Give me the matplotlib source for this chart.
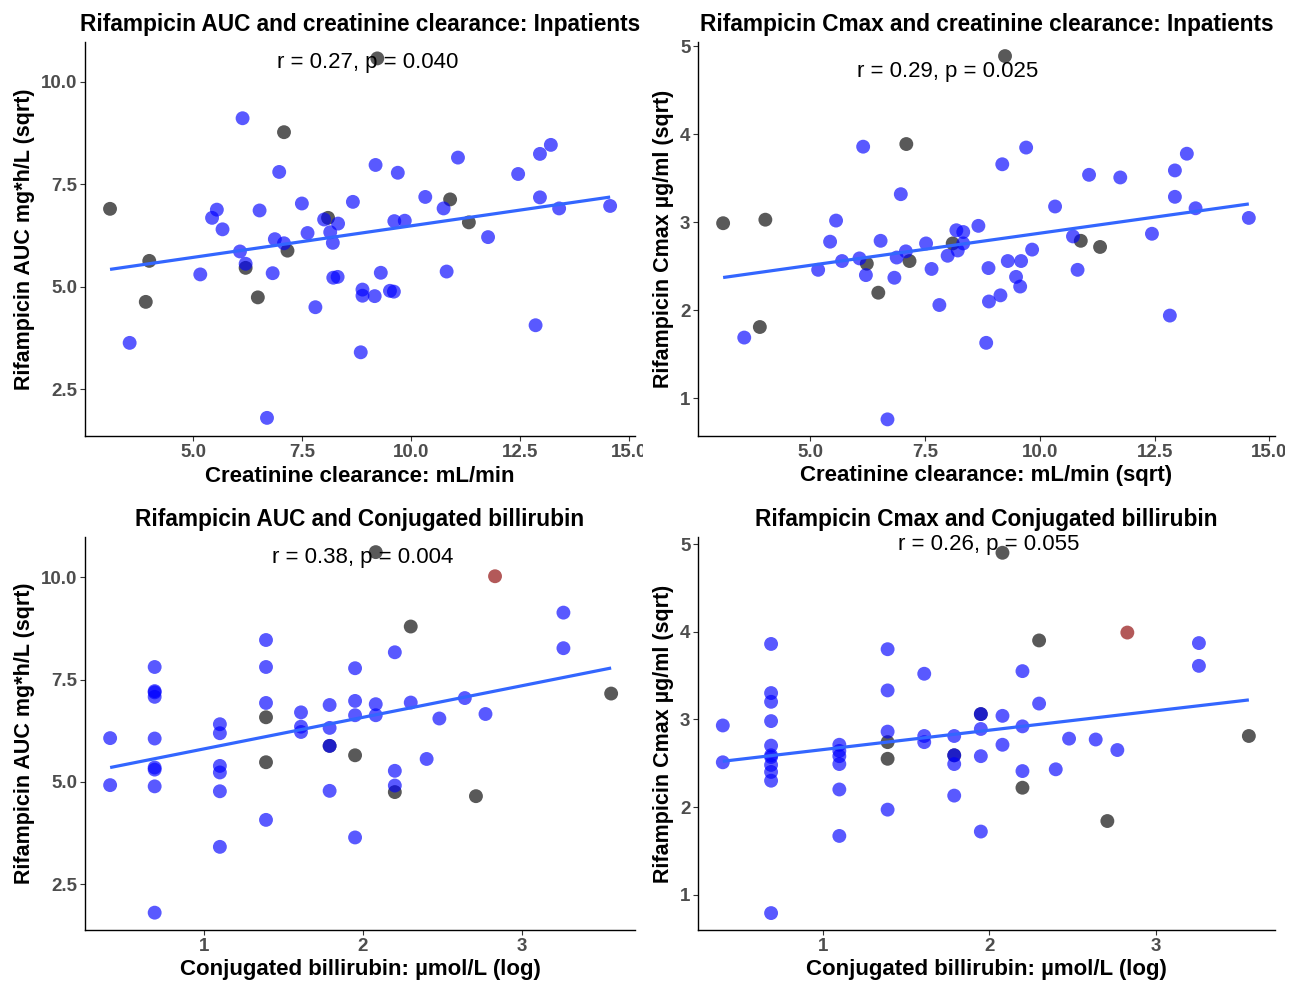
import numpy as np
import matplotlib
matplotlib.use("Agg")
import matplotlib.pyplot as plt
from matplotlib.transforms import Bbox, TransformedBbox

plt.rcParams['font.family'] = ['Liberation Sans', 'DejaVu Sans']

# ---------------- data ----------------
# Panel 1: AUC (sqrt) vs creatinine clearance (sqrt)
p1_x = [3.09, 7.08, 8.09, 7.16, 3.99, 6.20, 3.91, 6.48, 9.22, 10.89, 11.32,
        6.13, 6.97, 9.18, 5.54, 5.43, 5.67, 6.52, 7.49, 8.66, 8.00, 8.32, 8.14, 8.20, 7.62,
        6.87, 7.08, 6.07, 6.20, 5.16, 6.82, 8.21, 8.31, 9.30, 8.88, 8.88, 9.16, 7.80, 3.54,
        8.84, 6.69, 9.69, 11.07, 12.45, 12.95, 13.20, 10.32, 10.74, 12.95, 13.39, 14.56,
        9.61, 9.85, 11.76, 10.81, 9.51, 9.60, 12.85]
p1_y = [6.90, 8.77, 6.68, 5.88, 5.63, 5.46, 4.63, 4.74, 10.57, 7.13, 6.57,
        9.11, 7.80, 7.97, 6.88, 6.68, 6.40, 6.86, 7.03, 7.07, 6.64, 6.54, 6.33, 6.07, 6.31,
        6.16, 6.06, 5.86, 5.56, 5.30, 5.33, 5.22, 5.24, 5.34, 4.93, 4.78, 4.77, 4.50, 3.63,
        3.40, 1.80, 7.78, 8.15, 7.75, 8.24, 8.46, 7.19, 6.91, 7.18, 6.91, 6.97,
        6.60, 6.61, 6.21, 5.37, 4.90, 4.88, 4.06]
p1_g = ['g'] * 11 + ['b'] * 47

# Panel 2: AUC (sqrt) vs conjugated bilirubin (log)
p2_x = [1.39, 1.39, 1.79, 1.95, 2.08, 2.30, 3.56, 2.20, 2.71,
        2.83,
        0.41, 0.41, 0.69, 0.69, 0.69, 0.69, 0.69, 0.69, 0.69, 0.69, 0.69,
        1.10, 1.10, 1.10, 1.10, 1.10, 1.10,
        1.39, 1.39, 1.39, 1.39,
        1.61, 1.61, 1.61,
        1.79, 1.79, 1.79, 1.79,
        1.95, 1.95, 1.95, 1.95,
        2.08, 2.08,
        2.20, 2.30, 2.64, 2.48, 2.77, 3.26, 3.26, 2.40, 2.20, 2.20]
p2_y = [6.58, 5.48, 5.88, 5.65, 10.62, 8.80, 7.16, 4.75, 4.65,
        10.03,
        6.07, 4.92, 7.81, 7.22, 7.19, 7.08, 6.06, 5.35, 5.30, 4.89, 1.80,
        6.41, 6.19, 5.39, 5.23, 4.77, 3.41,
        8.47, 7.81, 6.93, 4.07,
        6.70, 6.35, 6.22,
        6.88, 6.32, 5.88, 4.78,
        7.78, 6.98, 6.63, 3.64,
        6.90, 6.63,
        8.17, 6.94, 7.05, 6.55, 6.66, 9.14, 8.27, 5.56, 5.27, 4.91]
p2_g = ['g'] * 9 + ['r'] + ['b'] * 44

# Panel 3: Cmax (sqrt) vs creatinine clearance (sqrt)
p3_x = [3.10, 4.02, 7.09, 8.10, 7.16, 6.23, 6.48, 3.90, 9.24, 10.89, 11.31,
        6.15, 6.97, 5.56, 5.43, 6.53, 7.52, 8.66, 8.18, 8.33, 8.33, 8.21, 7.99, 5.69, 6.07,
        6.88, 7.08, 5.17, 6.21, 6.83, 7.64, 8.88, 7.81, 8.89, 9.14, 3.56, 8.83, 6.68, 9.18,
        9.70, 11.07, 11.75, 13.20, 12.94, 10.33, 12.94, 13.39, 14.55, 10.72, 12.44, 9.83,
        9.30, 9.59, 10.82, 9.48, 9.57, 12.83]
p3_y = [2.99, 3.03, 3.89, 2.76, 2.56, 2.53, 2.20, 1.81, 4.89, 2.79, 2.72,
        3.86, 3.32, 3.02, 2.78, 2.79, 2.76, 2.96, 2.91, 2.89, 2.76, 2.68, 2.62, 2.56, 2.59,
        2.60, 2.67, 2.46, 2.40, 2.37, 2.47, 2.48, 2.06, 2.10, 2.17, 1.69, 1.63, 0.76, 3.66,
        3.85, 3.54, 3.51, 3.78, 3.59, 3.18, 3.29, 3.16, 3.05, 2.84, 2.87, 2.69,
        2.56, 2.56, 2.46, 2.38, 2.27, 1.94]
p3_g = ['g'] * 11 + ['b'] * 46

# Panel 4: Cmax (sqrt) vs conjugated bilirubin (log)
p4_x = [1.39, 1.39, 1.79, 1.95, 2.08, 2.30, 3.56, 2.20, 2.71,
        2.83,
        0.40, 0.40, 0.69, 0.69, 0.69, 0.69, 0.69, 0.69, 0.69, 0.69, 0.69, 0.69, 0.69,
        1.10, 1.10, 1.10, 1.10, 1.10, 1.10,
        1.39, 1.39, 1.39, 1.39,
        1.61, 1.61, 1.61,
        1.79, 1.79, 1.79, 1.79,
        1.95, 1.95, 1.95, 1.95,
        2.08, 2.08,
        2.20, 2.20, 2.20, 2.30, 2.48, 2.64, 2.77, 2.40, 3.26, 3.26]
p4_y = [2.74, 2.55, 2.59, 3.06, 4.90, 3.90, 2.81, 2.22, 1.84,
        3.99,
        2.93, 2.51, 3.86, 3.30, 3.20, 2.98, 2.70, 2.59, 2.57, 2.48, 2.40, 2.30, 0.79,
        2.71, 2.64, 2.58, 2.49, 2.20, 1.67,
        3.80, 3.33, 2.86, 1.97,
        3.52, 2.81, 2.74,
        2.81, 2.59, 2.49, 2.13,
        3.06, 2.89, 2.58, 1.72,
        3.04, 2.71,
        3.55, 2.92, 2.41, 3.18, 2.78, 2.77, 2.65, 2.43, 3.87, 3.61]
p4_g = ['g'] * 9 + ['r'] + ['b'] * 46

titles = ["Rifampicin AUC and creatinine clearance: Inpatients",
          "Rifampicin AUC and Conjugated billirubin",
          "Rifampicin Cmax and creatinine clearance: Inpatients",
          "Rifampicin Cmax and Conjugated billirubin"]
xlabels = ["Creatinine clearance: mL/min",
           "Conjugated billirubin: \u00b5mol/L (log)",
           "Creatinine clearance: mL/min (sqrt)",
           "Conjugated billirubin: \u00b5mol/L (log)"]
ylabels = ["Rifampicin AUC mg*h/L (sqrt)",
           "Rifampicin AUC mg*h/L (sqrt)",
           "Rifampicin Cmax \u00b5g/ml (sqrt)",
           "Rifampicin Cmax \u00b5g/ml (sqrt)"]
stat_text = ["r = 0.27, p = 0.040", "r = 0.38, p = 0.004",
             "r = 0.29, p = 0.025", "r = 0.26, p = 0.055"]
stat_pos = [(9.0, 10.46), (2.0, 10.5), (8.0, 4.72), (2.0, 5.0)]
xticks = [[5.0, 7.5, 10.0, 12.5, 15.0], [1, 2, 3], [5.0, 7.5, 10.0, 12.5, 15.0], [1, 2, 3]]
xticklabels = [["5.0", "7.5", "10.0", "12.5", "15.0"], ["1", "2", "3"],
               ["5.0", "7.5", "10.0", "12.5", "15.0"], ["1", "2", "3"]]
yticks = [[2.5, 5.0, 7.5, 10.0], [2.5, 5.0, 7.5, 10.0], [1, 2, 3, 4, 5], [1, 2, 3, 4, 5]]
yticklabels = [["2.5", "5.0", "7.5", "10.0"], ["2.5", "5.0", "7.5", "10.0"],
               ["1", "2", "3", "4", "5"], ["1", "2", "3", "4", "5"]]
xlims = [(2.516, 15.13), (0.252, 3.71), (2.553, 15.12), (0.251, 3.717)]
ylims = [(1.358, 10.97), (1.376, 10.99), (0.571, 5.05), (0.597, 5.08)]

# ---------------- figure ----------------
W, H = 1301, 985
fig = plt.figure(figsize=(W / 100, H / 100), dpi=100)

rects = [(85, 42, 635, 436), (85, 537, 635, 930), (698, 42, 1275, 436), (698, 537, 1275, 930)]
clip_right = [643, 643, 1285, 1301]
panels = [(p1_x, p1_y, p1_g), (p2_x, p2_y, p2_g), (p3_x, p3_y, p3_g), (p4_x, p4_y, p4_g)]
colors = {'b': (0, 0, 1), 'g': (0, 0, 0), 'r': (0.545, 0, 0)}

for i, (l, t, r, b) in enumerate(rects):
    ax = fig.add_axes([l / W, 1 - b / H, (r - l) / W, (b - t) / H])
    x, y, g = panels[i]
    x = np.array(x); y = np.array(y)
    cols = [colors[c] for c in g]
    ax.scatter(x, y, s=100, c=cols, alpha=0.65, linewidths=0, zorder=2)
    k, c0 = np.polyfit(x, y, 1)
    xs = np.array([x.min(), x.max()])
    ax.plot(xs, k * xs + c0, color='#3366FF', lw=2.3, zorder=3, solid_capstyle='butt')
    ax.text(stat_pos[i][0], stat_pos[i][1], stat_text[i], ha='center', va='center',
            fontsize=16, color='black', zorder=1)
    ax.set_xlim(*xlims[i]); ax.set_ylim(*ylims[i])
    ax.set_xticks(xticks[i]); ax.set_xticklabels(xticklabels[i])
    ax.set_yticks(yticks[i]); ax.set_yticklabels(yticklabels[i])
    for s in ['top', 'right']:
        ax.spines[s].set_visible(False)
    for s in ['left', 'bottom']:
        ax.spines[s].set_linewidth(1.0)
        ax.spines[s].set_color('black')
    ax.tick_params(direction='out', length=3.5, width=0.8, color='#333333',
                   labelsize=13.5, labelcolor='#4D4D4D', pad=2)
    for lab in ax.get_xticklabels() + ax.get_yticklabels():
        lab.set_fontweight('bold')
    ax.set_title(titles[i], fontsize=16.3, fontweight='bold', pad=8)
    ax.set_xlabel(xlabels[i], fontsize=16, fontweight='bold', labelpad=3.5)
    ax.set_ylabel(ylabels[i], fontsize=15.5, fontweight='bold', labelpad=4)
    cb = TransformedBbox(Bbox([[0, 0], [clip_right[i] / W, 1]]), fig.transFigure)
    for lab in ax.get_xticklabels():
        lab.set_clip_box(cb)
        lab.set_clip_on(True)

fig.savefig("out.png", dpi=100, facecolor='white')
